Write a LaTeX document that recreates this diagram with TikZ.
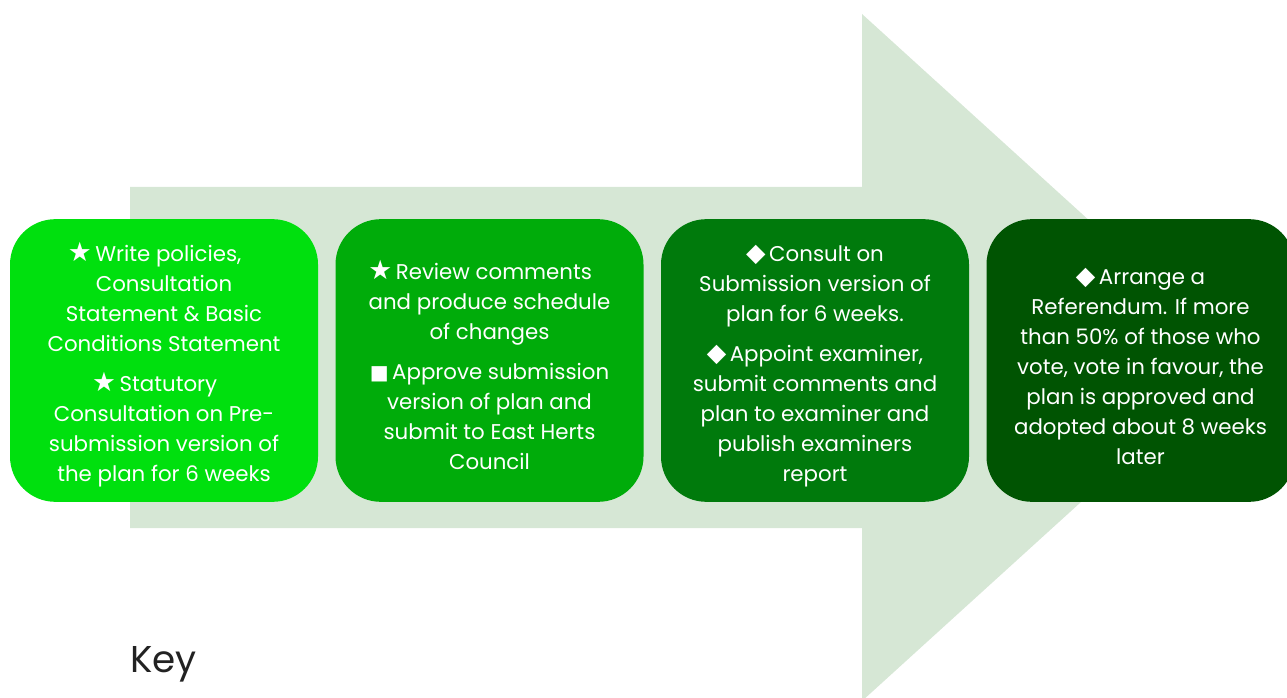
\documentclass[tikz,border=0pt]{standalone}
\usepackage{fontspec}
\setmainfont{Poppins}
\newfontfamily\symf{DejaVu Sans}
\definecolor{arrowc}{RGB}{214,231,213}
\definecolor{cA}{RGB}{0,224,14}
\definecolor{cB}{RGB}{0,172,10}
\definecolor{cC}{RGB}{0,122,12}
\definecolor{cD}{RGB}{0,84,2}
\definecolor{keyc}{RGB}{34,34,34}
\newcommand{\starb}{{\symf\fontsize{20}{20}\selectfont ★}\,}
\newcommand{\sqb}{{\symf\fontsize{15}{15}\selectfont ■}\,}
\newcommand{\dmb}{{\symf\fontsize{19}{19}\selectfont ◆}\,}
\newcommand{\tailpad}{\rule{14pt}{0pt}}
\newcommand{\topstrut}{\rule{0pt}{21pt}}
\begin{document}
\begin{tikzpicture}[x=0.75pt,y=-0.75pt,
  stagebox/.style={rounded corners=34pt, minimum width=231pt, minimum height=212pt,
    text=white, align=center, font=\fontsize{16}{22.5}\selectfont, inner sep=0pt},
  keytext/.style={anchor=base west, font=\fontsize{28}{30}\selectfont, text=keyc, inner sep=0pt}]
\useasboundingbox (0,0) rectangle (1287,698);
\fill[arrowc] (130,187) -- (862,187) -- (862,14) -- (1240,357.5) -- (862,701) -- (862,528) -- (130,528) -- cycle;
\node[stagebox, fill=cA] (s1) at (164,360.5) {\topstrut\starb Write policies,\tailpad\\ Consultation\\ Statement \& Basic\\ Conditions Statement\\[7.5pt] \starb Statutory\tailpad\\ Consultation on Pre-\\ submission version of\\ the plan for 6 weeks};
\node[stagebox, fill=cB] (s2) at (489.5,360.5) {\topstrut\starb Review comments\tailpad\\ and produce schedule\\ of changes\\[7.5pt] \sqb Approve submission\\ version of plan and\\ submit to East Herts\\ Council};
\node[stagebox, fill=cC] (s3) at (815,360.5) {\topstrut\dmb Consult on\\ Submission version of\\ plan for 6 weeks.\\[7.5pt] \dmb Appoint examiner,\\ submit comments and\\ plan to examiner and\\ publish examiners\\ report};
\node[stagebox, fill=cD] (s4) at (1140.5,360.5) {\topstrut\dmb Arrange a\\ Referendum. If more\\ than 50\% of those who\\ vote, vote in favour, the\\ plan is approved and\\ adopted about 8 weeks\\ later};
\node[keytext] (key) at (130,672) {Key};
\end{tikzpicture}
\end{document}
